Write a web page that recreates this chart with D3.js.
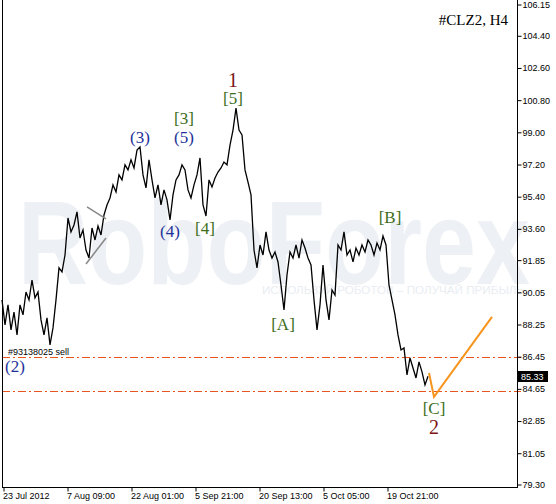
<!DOCTYPE html>
<html><head><meta charset="utf-8">
<script src="https://cdn.jsdelivr.net/npm/d3@7"></script>
<style>body{margin:0;background:#fff}svg{display:block}</style>
</head><body><svg id="c" width="556" height="504"></svg>
<script>
// ---- data ----
const symbolTitle = "#CLZ2, H4";
const priceStartBar = -1;     // first sample bar index
const priceStepBars = 3;      // bars between samples
const prices = [
 89.60,88.20,89.32,87.92,88.92,87.64,89.32,88.76,90.04,89.60,
 90.71,89.71,90.04,88.48,87.64,88.59,87.08,88.03,89.60,91.39,
 91.16,92.11,94.18,93.40,93.79,94.52,93.06,93.51,92.39,91.94,
 93.62,92.95,93.73,93.23,94.35,94.91,95.30,96.03,95.64,96.59,
 96.31,97.15,96.87,97.43,96.98,97.98,98.15,96.59,95.86,97.43,
 96.31,95.30,96.03,94.91,95.75,95.19,94.07,95.47,96.31,96.59,
 97.15,96.87,95.75,95.30,96.03,96.59,97.54,94.91,94.29,96.31,
 95.92,96.42,96.75,96.98,97.31,97.15,98.26,99.10,100.33,99.10,
 98.82,96.87,96.19,95.47,92.39,91.39,92.67,92.11,93.40,92.39,
 91.94,92.28,91.72,90.43,89.04,90.99,92.28,91.94,92.67,91.94,
 92.95,92.50,91.94,91.55,89.60,87.92,89.32,91.55,89.60,88.48,
 90.15,89.87,92.67,92.39,93.40,92.11,92.39,91.72,92.50,92.11,
 92.67,92.28,92.95,92.67,92.11,92.78,92.39,93.17,92.67,90.43,
 89.60,88.76,87.64,86.80,86.91,85.40,86.35,85.79,85.23,86.13,
 85.57,84.84,85.33
];
const xTickBars = [0, 64, 128, 192, 256, 320, 384];
const xTickLabels = ["23 Jul 2012","7 Aug 09:00","22 Aug 01:00","5 Sep 21:00","20 Sep 13:00","5 Oct 05:00","19 Oct 21:00"];
const yTicks = [106.15,104.40,102.60,100.80,99.00,97.20,95.40,93.60,91.85,90.05,88.25,86.45,84.65,82.85,81.05,79.30];
const waveText  = ["(2)","(3)","(5)","[3]","(4)","[4]","1","[5]","[A]","[B]","[C]","2"];
const waveBar   = [12, 137, 181, 181, 167, 202, 230, 230, 280, 387, 431, 431];
const wavePrice = [85.85, 98.66, 98.66, 99.77, 93.40, 93.57, 101.90, 100.89, 88.25, 94.18, 83.50, 82.49];
const waveKind  = ["minor","minor","minor","inter","minor","inter","major","inter","inter","inter","inter","major"];
const wedgeUpper = [[84, 94.80], [103, 94.13]];
const wedgeLower = [[83, 91.61], [103, 93.06]];
const forecast = [[426, 85.51], [431, 84.17], [489, 88.65]];
const levels = [86.40, 84.50];
const orderLabel = "#93138025 sell";
const lastPrice = 85.33;

// ---- drawing ----
const svg = d3.select("#c");
const x = d3.scaleLinear().domain([-1, 514]).range([2, 517]);
const y = d3.scaleLinear().domain([79.30, 106.15]).range([484, 4]);
const plotRight = 517, plotBottom = 487, plotLeft = 2;

// watermark
svg.append("text").attr("x", 18).attr("y", 284)
  .attr("font-family", "Liberation Sans, Arial, sans-serif").attr("font-weight", "bold")
  .attr("font-size", 118).attr("fill", "#edf0f4")
  .attr("textLength", 512).attr("lengthAdjust", "spacingAndGlyphs").text("RoboForex");
svg.append("text").attr("x", 262).attr("y", 294)
  .attr("font-family", "Liberation Sans, Arial, sans-serif")
  .attr("font-size", 11).attr("fill", "#e9edf2")
  .attr("textLength", 262).attr("lengthAdjust", "spacingAndGlyphs").text("ИСПОЛЬЗУЙ РОБОТОВ – ПОЛУЧАЙ ПРИБЫЛЬ");

// level lines
svg.selectAll(".lvl").data(levels).join("line").attr("class","lvl")
  .attr("x1", plotLeft).attr("x2", plotRight + 4)
  .attr("y1", d => Math.round(y(d)) + 0.5).attr("y2", d => Math.round(y(d)) + 0.5)
  .attr("stroke", "#e8541c").attr("stroke-width", 1)
  .attr("stroke-dasharray", "8,3,2,3");

// order label
svg.append("text").attr("x", 8).attr("y", y(levels[0]) - 2)
  .attr("font-family", "Liberation Sans, Arial, sans-serif").attr("font-size", 9)
  .attr("fill", "#000").text(orderLabel);

// price line
const series = prices.map((p, i) => [priceStartBar + i * priceStepBars, p]);
const line = d3.line().x(d => x(d[0])).y(d => y(d[1]));
svg.append("path").datum(series).attr("d", line)
  .attr("fill", "none").attr("stroke", "#000").attr("stroke-width", 1.3).attr("stroke-linejoin", "miter");

// wedge
[wedgeUpper, wedgeLower].forEach(w => {
  svg.append("path").datum(w).attr("d", line).attr("fill", "none")
    .attr("stroke", "#8a8a8a").attr("stroke-width", 1.6);
});

// forecast
svg.append("path").datum(forecast).attr("d", line).attr("fill", "none")
  .attr("stroke", "#f7941d").attr("stroke-width", 2);

// wave labels
const kindStyle = {
  minor: {fill: "#23329a", size: 17},
  inter: {fill: "#3c6e1c", size: 17},
  major: {fill: "#7d1414", size: 20}
};
svg.selectAll(".wave").data(waveText).join("text").attr("class", "wave")
  .attr("x", (d, i) => x(waveBar[i])).attr("y", (d, i) => y(wavePrice[i]))
  .attr("text-anchor", "middle").attr("dominant-baseline", "central")
  .attr("font-family", "Liberation Serif, Times New Roman, serif")
  .attr("font-size", (d, i) => kindStyle[waveKind[i]].size)
  .attr("fill", (d, i) => kindStyle[waveKind[i]].fill)
  .text(d => d);

// title
svg.append("text").attr("x", 508).attr("y", 25).attr("text-anchor", "end")
  .attr("font-family", "Liberation Serif, Times New Roman, serif").attr("font-size", 15)
  .attr("fill", "#000").text(symbolTitle);

// frame
svg.append("line").attr("x1", plotLeft + 0.5).attr("x2", plotLeft + 0.5).attr("y1", 0).attr("y2", plotBottom)
  .attr("stroke", "#000");
svg.append("line").attr("x1", plotRight + 0.5).attr("x2", plotRight + 0.5).attr("y1", 0).attr("y2", plotBottom + 0.5)
  .attr("stroke", "#000");
svg.append("line").attr("x1", plotLeft).attr("x2", plotRight + 1).attr("y1", plotBottom + 0.5).attr("y2", plotBottom + 0.5)
  .attr("stroke", "#000");

// right axis
const ya = svg.append("g").attr("transform", `translate(${plotRight + 0.5},0.5)`)
  .call(d3.axisRight(y).tickValues(yTicks).tickSize(4).tickFormat(d3.format(".2f")));
ya.select(".domain").remove();
ya.selectAll("text").attr("x", 5).attr("font-family", "Liberation Sans, Arial, sans-serif")
  .attr("font-size", 9).attr("fill", "#000");

// bottom axis
const xa = svg.append("g").attr("transform", `translate(0.5,${plotBottom + 0.5})`)
  .call(d3.axisBottom(x).tickValues(xTickBars).tickSize(4).tickFormat((d, i) => xTickLabels[i]));
xa.select(".domain").remove();
xa.selectAll("text").attr("y", 5).attr("text-anchor", "start").attr("x", -1)
  .attr("font-family", "Liberation Sans, Arial, sans-serif").attr("font-size", 9).attr("fill", "#000");

// last price box
const ly = y(lastPrice);
svg.append("rect").attr("x", plotRight + 1).attr("y", Math.round(ly) - 5).attr("width", 30).attr("height", 11)
  .attr("fill", "#000");
svg.append("text").attr("x", plotRight + 4).attr("y", Math.round(ly) + 0.5).attr("dominant-baseline", "central")
  .attr("font-family", "Liberation Sans, Arial, sans-serif").attr("font-size", 9)
  .attr("fill", "#fff").text(lastPrice.toFixed(2));
</script></body></html>
